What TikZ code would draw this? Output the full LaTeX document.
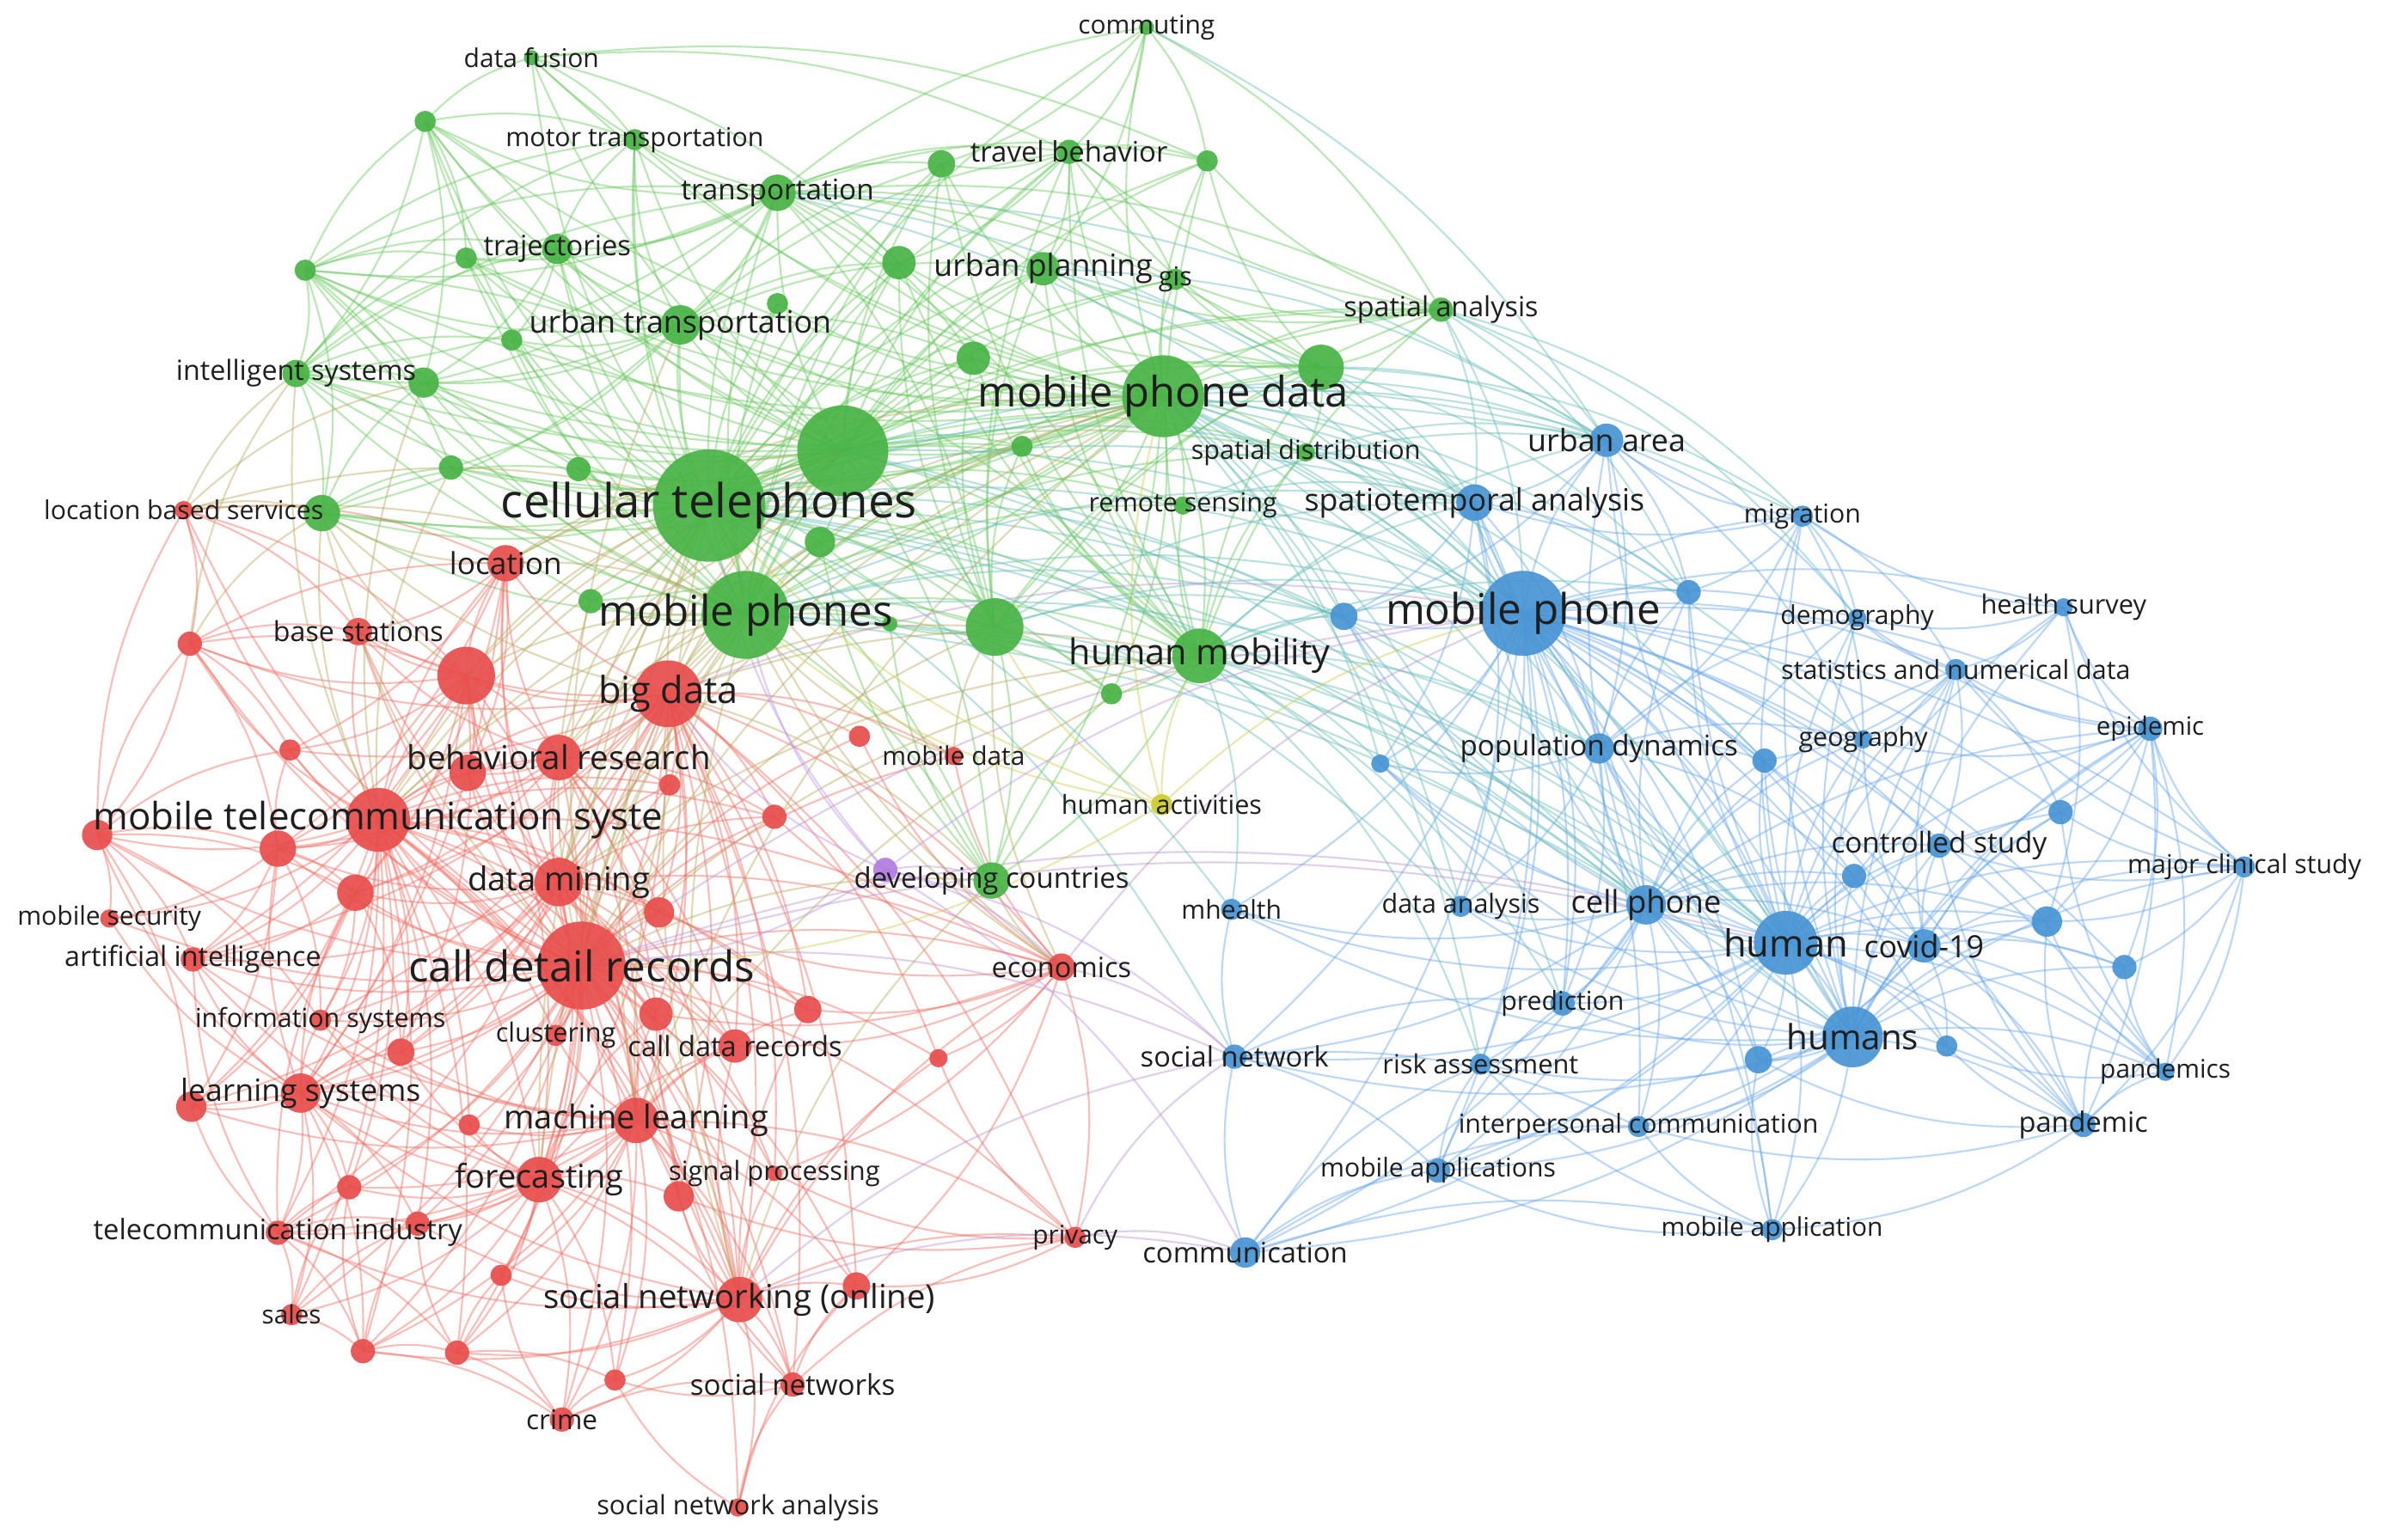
\documentclass[tikz,border=0pt]{standalone}
\usepackage{fontspec}
\setmainfont{Open Sans}
\definecolor{gN}{RGB}{72,180,70}
\definecolor{rN}{RGB}{232,78,76}
\definecolor{bN}{RGB}{72,148,212}
\definecolor{yN}{RGB}{205,205,45}
\definecolor{pN}{RGB}{175,125,225}
\definecolor{gE}{RGB}{105,200,95}
\definecolor{rE}{RGB}{240,110,100}
\definecolor{bE}{RGB}{105,168,235}
\definecolor{rgE}{RGB}{185,170,100}
\definecolor{gbE}{RGB}{105,190,185}
\definecolor{rbE}{RGB}{185,150,205}
\definecolor{yE}{RGB}{205,205,80}
\definecolor{pE}{RGB}{190,150,230}
\definecolor{txt}{RGB}{30,30,30}
\pgfdeclarelayer{background}
\pgfdeclarelayer{fg}
\pgfsetlayers{background,main,fg}
\tikzset{
  nd/.style={circle,inner sep=0pt,draw=none,fill opacity=0.92},
  ng/.style={nd,fill=gN}, nr/.style={nd,fill=rN}, nb/.style={nd,fill=bN},
  ny/.style={nd,fill=yN}, np/.style={nd,fill=pN},
  lbl/.style={inner sep=0pt,text=txt},
  ed/.style={line width=1.2pt,draw opacity=0.45},
  eG/.style={ed,draw=gE}, eR/.style={ed,draw=rE}, eB/.style={ed,draw=bE},
  eRG/.style={ed,draw=rgE}, eGB/.style={ed,draw=gbE}, eRB/.style={ed,draw=rbE},
  eY/.style={ed,draw=yE}, eP/.style={ed,draw=pE}
}
\newlength\lblw
\newcommand\fitl[2]{\settowidth\lblw{\fontsize{10pt}{12pt}\selectfont #2}%
  \pgfmathsetmacro\lblsz{10*#1/\lblw}%
  \fontsize{\lblsz pt}{\lblsz pt}\selectfont #2}
\newcommand\kw[7]{\node[#5,minimum size=#4*2pt] (#1) at (#2,#3) {};%
  \begin{pgfonlayer}{fg}\node[lbl] (#1l) at (#2,#3) {\fitl{#6}{#7}};\end{pgfonlayer}}
\newcommand\kd[5]{\node[#5,minimum size=#4*2pt] (#1) at (#2,#3) {};}
\newcommand\edges[3]{\foreach \t in {#3}{\draw[#1] (#2.center) to[bend left=15] (\t.center);}}
\begin{document}
\begin{tikzpicture}[x=1pt,y=-1pt]
\useasboundingbox (0,0) rectangle (1568,1014);
% ---------- green
\kw{gCom}{755}{18}{5}{ng}{90}{commuting}
\kw{gFus}{350}{38}{5}{ng}{89}{data fusion}
\kd{gU1}{280}{80}{7}{ng}
\kw{gMot}{418}{92}{7}{ng}{170}{motor transportation}
\kw{gTB}{704}{100}{8}{ng}{130}{travel behavior}
\kd{gU2}{620}{108}{9}{ng}
\kd{gU3}{795}{106}{7}{ng}
\kw{gTra}{512}{127}{12}{ng}{127}{transportation}
\kw{gTrj}{367}{164}{10}{ng}{97}{trajectories}
\kd{gU4}{307}{170}{7}{ng}
\kd{gU5}{201}{178}{7}{ng}
\kd{gU6}{512}{200}{7}{ng}
\kw{gUP}{687}{177}{11}{ng}{144}{urban planning}
\kd{gU7}{592}{173}{11}{ng}
\kw{gGis}{774}{184}{7}{ng}{22}{gis}
\kw{gSA}{949}{204}{8}{ng}{128}{spatial analysis}
\kw{gUT}{448}{214}{13}{ng}{199}{urban transportation}
\kd{gU8}{337}{224}{7}{ng}
\kw{gIS}{195}{246}{9}{ng}{158}{intelligent systems}
\kd{gU9}{279}{252}{10}{ng}
\kw{gMPD}{766}{261}{27}{ng}{244}{mobile phone data}
\kd{gU10}{641}{236}{11}{ng}
\kd{gU11}{870}{242}{15}{ng}
\kw{gCT}{467}{333}{37}{ng}{274}{cellular telephones}
\kd{gU12}{555}{297}{30}{ng}
\kd{gU13}{673}{294}{7}{ng}
\kw{gSD}{860}{298}{6}{ng}{151}{spatial distribution}
\kw{gRS}{779}{333}{6}{ng}{124}{remote sensing}
\kd{gU14}{297}{308}{8}{ng}
\kd{gU15}{381}{309}{8}{ng}
\kd{gLBS}{212}{338}{12}{ng}
\kd{gU16}{540}{357}{10}{ng}
\kw{gMP}{491}{405}{29}{ng}{194}{mobile phones}
\kd{gU17}{389}{396}{8}{ng}
\kd{gU18}{586}{411}{5}{ng}
\kd{gU19}{655}{413}{19}{ng}
\kw{gHM}{790}{432}{18}{ng}{172}{human mobility}
\kd{gU20}{732}{457}{7}{ng}
\kw{gDC}{653}{580}{12}{ng}{181}{developing countries}
% ---------- blue
\kw{bUA}{1058}{290}{11}{nb}{104}{urban area}
\kw{bSTA}{971}{331}{12}{nb}{224}{spatiotemporal analysis}
\kw{bMig}{1187}{340}{7}{nb}{77}{migration}
\kd{bU1}{1112}{390}{8}{nb}
\kw{bMP}{1003}{404}{28}{nb}{181}{mobile phone}
\kd{bU2}{885}{406}{9}{nb}
\kw{bDem}{1223}{407}{6}{nb}{101}{demography}
\kw{bHS}{1359}{400}{6}{nb}{109}{health survey}
\kw{bStat}{1288}{441}{7}{nb}{230}{statistics and numerical data}
\kd{bU3}{909}{503}{6}{nb}
\kw{bPD}{1053}{493}{10}{nb}{183}{population dynamics}
\kw{bGeo}{1227}{487}{6}{nb}{85}{geography}
\kd{bU4}{1162}{501}{8}{nb}
\kw{bEpi}{1416}{480}{8}{nb}{71}{epidemic}
\kd{bU5}{1357}{535}{8}{nb}
\kw{bCS}{1277}{557}{8}{nb}{142}{controlled study}
\kd{bU6}{1221}{577}{8}{nb}
\kw{bMCS}{1478}{571}{7}{nb}{154}{major clinical study}
\kw{bCP}{1084}{596}{13}{nb}{99}{cell phone}
\kw{bHu}{1176}{621}{21}{nb}{82}{human}
\kw{bCov}{1267}{623}{11}{nb}{79}{covid-19}
\kd{bU7}{1348}{607}{10}{nb}
\kd{bU8}{1399}{637}{8}{nb}
\kw{bHus}{1220}{683}{20}{nb}{87}{humans}
\kd{bU9}{1282}{689}{7}{nb}
\kd{bU10}{1158}{698}{9}{nb}
\kw{bPs}{1426}{706}{6}{nb}{86}{pandemics}
\kw{bP}{1372}{741}{8}{nb}{85}{pandemic}
\kw{bIC}{1079}{742}{7}{nb}{237}{interpersonal communication}
\kw{bMA}{1167}{810}{7}{nb}{146}{mobile application}
\kw{bMH}{811}{599}{7}{nb}{66}{mhealth}
\kw{bDA}{962}{597}{7}{nb}{104}{data analysis}
\kw{bPre}{1029}{661}{8}{nb}{81}{prediction}
\kw{bSN}{813}{696}{8}{nb}{124}{social network}
\kw{bRA}{975}{701}{7}{nb}{129}{risk assessment}
\kw{bMAs}{947}{771}{8}{nb}{155}{mobile applications}
\kw{bCom}{820}{825}{10}{nb}{135}{communication}
% ---------- yellow / purple
\kw{yHA}{765}{530}{7}{ny}{132}{human activities}
\kd{pU}{583}{573}{8}{np}
% ---------- red
\kw{rLBS}{121}{336}{6}{nr}{184}{location based services}
\kw{rLoc}{333}{371}{12}{nr}{74}{location}
\kd{rU1}{125}{424}{8}{nr}
\kw{rBS}{236}{416}{9}{nr}{112}{base stations}
\kd{rU2}{307}{445}{19}{nr}
\kw{rBD}{440}{457}{22}{nr}{92}{big data}
\kd{rU3}{191}{494}{7}{nr}
\kw{rBR}{368}{499}{15}{nr}{200}{behavioral research}
\kd{rU4}{308}{509}{12}{nr}
\kd{rU5}{441}{517}{7}{nr}
\kd{rU6}{510}{538}{8}{nr}
\kd{rU6b}{566}{485}{7}{nr}
\kw{rMD}{628}{498}{6}{nr}{94}{mobile data}
\kw{rMTS}{249}{540}{21}{nr}{375}{mobile telecommunication syste}
\kd{rU7}{64}{550}{10}{nr}
\kd{rU8}{183}{559}{12}{nr}
\kd{rU9}{234}{588}{12}{nr}
\kw{rDM}{368}{581}{16}{nr}{120}{data mining}
\kd{rU10}{434}{601}{10}{nr}
\kw{rMS}{72}{605}{6}{nr}{121}{mobile security}
\kw{rAI}{127}{632}{8}{nr}{169}{artificial intelligence}
\kw{rCDR}{383}{636}{29}{nr}{228}{call detail records}
\kd{rU11}{432}{668}{11}{nr}
\kw{rIS}{211}{672}{7}{nr}{165}{information systems}
\kd{rU12}{264}{693}{9}{nr}
\kw{rClu}{366}{682}{7}{nr}{79}{clustering}
\kw{rCDaR}{484}{689}{11}{nr}{141}{call data records}
\kw{rLS}{198}{720}{13}{nr}{158}{learning systems}
\kd{rU13}{126}{729}{10}{nr}
\kd{rU14}{309}{741}{7}{nr}
\kw{rML}{419}{738}{15}{nr}{174}{machine learning}
\kd{rU15}{230}{782}{8}{nr}
\kw{rFor}{355}{777}{15}{nr}{111}{forecasting}
\kd{rU16}{447}{788}{10}{nr}
\kw{rSP}{510}{773}{5}{nr}{139}{signal processing}
\kw{rTI}{183}{812}{8}{nr}{243}{telecommunication industry}
\kd{rU17}{275}{806}{8}{nr}
\kd{rU18}{330}{840}{7}{nr}
\kw{rSNO}{487}{856}{15}{nr}{258}{social networking (online)}
\kd{rU19}{564}{847}{9}{nr}
\kw{rSal}{192}{866}{7}{nr}{39}{sales}
\kd{rU20}{239}{890}{8}{nr}
\kd{rU21}{301}{891}{8}{nr}
\kd{rU22}{405}{909}{7}{nr}
\kw{rSNs}{522}{912}{8}{nr}{135}{social networks}
\kw{rCri}{370}{935}{8}{nr}{47}{crime}
\kw{rSNA}{486}{993}{6}{nr}{186}{social network analysis}
\kw{rEco}{699}{637}{9}{nr}{92}{economics}
\kd{rU23}{532}{665}{9}{nr}
\kd{rU24}{618}{697}{6}{nr}
\kw{rPri}{708}{815}{7}{nr}{56}{privacy}
% ---------- edges
\begin{pgfonlayer}{background}
\fill[white] (0,0) rectangle (1568,1014);
% green
\edges{eG}{gCT}{gCom,gFus,gU1,gMot,gTB,gU2,gU3,gTra,gTrj,gU4,gU5,gU6,gUP,gU7,gGis,gSA,gUT,gU8,gIS,gU9,gMPD,gU10,gU11,gU12,gU13,gSD,gRS,gU14,gU15,gLBS,gU16,gMP,gU17,gU18,gU19,gHM,gU20,gDC}
\edges{eG}{gMPD}{gCom,gFus,gU1,gMot,gTB,gU2,gU3,gTra,gTrj,gU4,gU5,gU6,gUP,gU7,gGis,gSA,gUT,gU8,gIS,gU9,gU10,gU11,gU12,gU13,gSD,gRS,gU14,gU15,gLBS,gU16,gMP,gU17,gU19,gHM,gU20,gDC}
\edges{eG}{gMP}{gU1,gMot,gTB,gU2,gTra,gTrj,gU4,gU5,gU6,gUP,gU7,gSA,gUT,gU8,gIS,gU9,gU10,gU11,gU12,gU13,gSD,gRS,gU14,gU15,gLBS,gU16,gU17,gU18,gU19,gHM,gU20,gDC}
\edges{eG}{gU12}{gFus,gU1,gMot,gTB,gU2,gU3,gTra,gTrj,gU4,gU5,gUP,gU7,gGis,gSA,gUT,gIS,gU9,gU10,gU11,gU13,gSD,gRS,gU14,gU15,gLBS,gU16,gU19,gHM,gDC}
\edges{eG}{gTra}{gFus,gU1,gMot,gTB,gU2,gU3,gTrj,gU4,gU5,gUP,gU7,gUT,gIS,gU9,gHM,gU19,gSA,gCom,gGis,gU10,gU11}
\edges{eG}{gUT}{gU1,gMot,gTrj,gU4,gU5,gIS,gU9,gU8,gU14,gLBS,gUP,gU7,gTB,gU2,gHM,gU19,gU10}
\edges{eG}{gU5}{gU1,gTrj,gMot,gU9,gIS,gU4,gU14,gLBS,gTra,gU12}
\edges{eG}{gU1}{gFus,gMot,gTrj,gU4,gU9,gIS}
\edges{eG}{gIS}{gU9,gTrj,gMot,gLBS,gU14,gU15,gU4,gU8,gTra}
\edges{eG}{gHM}{gU11,gSA,gUP,gU7,gTB,gU19,gU20,gDC,gSD,gRS,gU13,gU10,gU2,gU3}
\edges{eG}{gU19}{gUP,gU7,gTB,gU2,gU10,gU11,gSA,gDC,gU20,gU16,gU18,gU13}
\edges{eG}{gCom}{gTB,gU3,gSA,gUP,gU2}
\edges{eG}{gFus}{gMot,gTB,gU3,gU7}
\edges{eG}{gSA}{gU11,gUP,gGis,gU3,gTB}
\edges{eG}{gU11}{gUP,gU3,gTB,gU7,gU10,gGis,gSD}
\edges{eG}{gLBS}{gU9,gU14,gU15,gU17}
\edges{eG}{gTB}{gU2,gU3,gUP,gU7,gGis}
\edges{eG}{gTrj}{gMot,gU4,gU8,gU9}
\edges{eG}{gDC}{gU16,gU18,gU20}
% red
\edges{eR}{rCDR}{rLBS,rLoc,rU1,rBS,rU2,rBD,rU3,rBR,rU4,rU5,rU6,rU6b,rMD,rMTS,rU7,rU8,rU9,rDM,rU10,rMS,rAI,rU11,rIS,rU12,rClu,rCDaR,rLS,rU13,rU14,rML,rU15,rFor,rU16,rSP,rTI,rU17,rU18,rSNO,rU19,rSal,rU20,rU21,rU22,rSNs,rCri,rSNA,rEco,rU23,rU24,rPri}
\edges{eR}{rMTS}{rLBS,rLoc,rU1,rBS,rU2,rBD,rU3,rBR,rU4,rU5,rU6,rU7,rU8,rU9,rDM,rU10,rMS,rAI,rU11,rIS,rU12,rClu,rCDaR,rLS,rU13,rU14,rML,rU15,rFor,rU16,rTI,rU17,rSNO,rSal,rU20,rU21,rEco,rU23}
\edges{eR}{rBD}{rLoc,rU1,rBS,rU2,rU3,rBR,rU4,rU5,rU6,rU6b,rMD,rU8,rU9,rDM,rU10,rAI,rU11,rIS,rU12,rClu,rCDaR,rLS,rML,rFor,rU16,rSP,rSNO,rU19,rSNs,rEco,rU23,rU24,rPri}
\edges{eR}{rDM}{rLoc,rBS,rU2,rBR,rU4,rU5,rU6,rU8,rU9,rU10,rAI,rU11,rIS,rU12,rClu,rCDaR,rLS,rU13,rML,rFor,rU16,rSP,rTI,rSNO,rEco,rU23}
\edges{eR}{rU2}{rLoc,rU1,rBS,rBR,rU4,rU3,rU8,rU9,rLS,rML,rFor,rU12,rAI}
\edges{eR}{rBR}{rLoc,rBS,rU4,rU5,rU6,rU9,rU8,rU10,rU11,rML,rFor,rSNO,rCDaR}
\edges{eR}{rML}{rU11,rCDaR,rU12,rU13,rLS,rU14,rFor,rU15,rU16,rSP,rTI,rU17,rU18,rSNO,rU19,rU20,rU21,rU22,rSNs,rCri,rPri,rAI,rIS,rClu,rU23}
\edges{eR}{rFor}{rU12,rLS,rU14,rU15,rU16,rTI,rU17,rU18,rSNO,rSal,rU20,rU21,rU22,rCri,rSNs,rAI,rIS,rU11,rCDaR}
\edges{eR}{rSNO}{rSNs,rSNA,rCri,rU22,rU19,rPri,rU16,rSP,rU18,rU21,rU20,rLS,rCDaR,rU11,rU23,rEco,rU24,rU17,rTI}
\edges{eR}{rLS}{rU13,rAI,rIS,rU8,rU9,rTI,rU12,rMS,rU7,rU15,rSal,rU17,rU20,rU14}
\edges{eR}{rU7}{rU8,rU9,rU13,rAI,rMS,rLBS,rU1,rU3,rIS}
\edges{eR}{rLBS}{rU1,rLoc,rU2,rBS}
\edges{eR}{rU1}{rBS,rU2,rU7,rLoc,rU3,rU8}
\edges{eR}{rTI}{rSal,rU20,rU17,rU15,rU9,rU13,rAI,rU21}
\edges{eR}{rSal}{rU15,rU20,rU17}
\edges{eR}{rU20}{rU15,rU17,rCri,rU21}
\edges{eR}{rU21}{rU17,rCri,rU18,rU22}
\edges{eR}{rCri}{rU18,rU22,rSNs}
\edges{eR}{rSNA}{rSNs,rU22,rU19}
\edges{eR}{rSNs}{rU19,rPri,rU16,rU22}
\edges{eR}{rEco}{rU10,rU11,rU23,rSP,rU6,rMD,rCDaR,rU24,rU6b,rPri,rU19}
\edges{eR}{rPri}{rU16,rU19,rU24,rSP}
\edges{eR}{rLoc}{rBS,rU4,rU3,rU8,rU9,rLS}
\edges{eR}{rU8}{rU9,rU3,rAI,rMS,rIS,rU13}
\edges{eR}{rU9}{rAI,rIS,rU12,rU13}
% blue
\edges{eB}{bMP}{bUA,bSTA,bMig,bU1,bU2,bDem,bHS,bStat,bU3,bPD,bGeo,bU4,bEpi,bU5,bCS,bU6,bMCS,bCP,bHu,bCov,bU7,bU8,bHus,bU9,bU10,bPs,bP,bIC,bMA,bMH,bDA,bPre,bSN,bRA,bMAs,bCom}
\edges{eB}{bHu}{bUA,bSTA,bMig,bU1,bU2,bDem,bHS,bStat,bU3,bPD,bGeo,bU4,bEpi,bU5,bCS,bU6,bMCS,bCP,bCov,bU7,bU8,bHus,bU9,bU10,bPs,bP,bIC,bMA,bMH,bDA,bPre,bSN,bRA,bMAs,bCom}
\edges{eB}{bHus}{bMig,bU1,bDem,bHS,bStat,bU3,bPD,bGeo,bU4,bEpi,bU5,bCS,bU6,bMCS,bCP,bCov,bU7,bU8,bU9,bU10,bPs,bP,bIC,bMA,bMH,bDA,bPre,bSN,bRA,bMAs,bCom}
\edges{eB}{bCP}{bUA,bSTA,bU1,bU2,bDem,bStat,bU3,bPD,bGeo,bU4,bEpi,bCS,bU6,bCov,bU7,bU10,bIC,bMA,bMH,bDA,bPre,bSN,bRA,bMAs,bCom,bP}
\edges{eB}{bCov}{bU7,bU8,bCS,bPs,bP,bEpi,bMCS,bU5,bU6,bStat,bGeo,bU9,bU10,bIC}
\edges{eB}{bMCS}{bCS,bU5,bU7,bU8,bP,bPs,bEpi,bStat,bHS}
\edges{eB}{bEpi}{bHS,bStat,bU5,bCS,bU7,bU8,bP,bPs,bGeo,bDem}
\edges{eB}{bHS}{bStat,bDem,bMig,bU7}
\edges{eB}{bMig}{bUA,bSTA,bDem,bGeo,bStat,bPD,bU1}
\edges{eB}{bP}{bU7,bU8,bCS,bU9,bPs,bIC,bMA,bU10}
\edges{eB}{bPs}{bU7,bU8,bU5,bU9}
\edges{eB}{bCom}{bSN,bMAs,bMA,bIC,bRA}
\edges{eB}{bSN}{bMH,bMAs,bIC,bPre}
\edges{eB}{bMA}{bMAs,bIC,bRA,bU10}
\edges{eB}{bMAs}{bIC,bRA,bPre}
\edges{eB}{bUA}{bSTA,bU1,bPD,bU2,bGeo,bDem}
\edges{eB}{bSTA}{bU1,bU2,bPD,bU3,bDA,bPre}
\edges{eB}{bPD}{bU1,bU3,bU4,bGeo,bDem,bDA,bPre,bU6}
\edges{eB}{bStat}{bDem,bGeo,bU4,bU6,bCS,bU5}
% green-blue
\edges{eGB}{gMPD}{bMP,bUA,bSTA,bPD,bCP,bHu,bU2,bU1,bMig,bDA,bPre,bRA,bHus,bU3,bGeo,bU4}
\edges{eGB}{gCT}{bMP,bHu,bCP,bSTA,bPD,bHus,bUA,bU2,bSN,bMH,bDA}
\edges{eGB}{gMP}{bMP,bHu,bCP,bPD,bSTA,bU2,bHus}
\edges{eGB}{gU12}{bMP,bSTA,bUA,bHu,bCP}
\edges{eGB}{gHM}{bMP,bSTA,bUA,bCP,bPD,bHu,bU2,bU1,bU3,bDA,bPre,bRA,bMH}
\edges{eGB}{gU11}{bUA,bSTA,bMP,bMig,bU1}
\edges{eGB}{gSA}{bUA,bSTA,bMP,bMig,bU1,bDem}
\edges{eGB}{gU19}{bMP,bU2,bSTA,bCP}
\edges{eGB}{gTra}{bUA,bMP,bSTA}
\edges{eGB}{gCom}{bUA}
\edges{eGB}{gSD}{bMP,bSTA,bUA}
\edges{eGB}{gRS}{bMP,bSTA,bUA}
\edges{eGB}{gUP}{bUA,bMP,bSTA}
% red-green
\edges{eRG}{rCDR}{gCT,gMP,gU12,gMPD,gHM,gU19,gDC,gU16,gLBS,gUT,gU17}
\edges{eRG}{rBD}{gCT,gMP,gU12,gMPD,gHM,gU19,gU16,gLBS,gDC}
\edges{eRG}{rMTS}{gCT,gMP,gU12,gMPD,gLBS,gIS,gU9,gU14}
\edges{eRG}{rDM}{gCT,gMP,gMPD,gU12,gHM}
\edges{eRG}{rLoc}{gCT,gMP,gLBS,gU12,gMPD}
\edges{eRG}{rU2}{gCT,gMP,gU12,gLBS}
\edges{eRG}{rBR}{gCT,gMP,gMPD,gU12}
\edges{eRG}{rLBS}{gLBS,gCT,gIS,gU9,gMP}
\edges{eRG}{rML}{gCT,gMP,gMPD,gHM}
\edges{eRG}{rEco}{gDC,gCT,gMP,gU19}
\edges{eRG}{rMD}{gMP,gCT,gU19}
\edges{eRG}{rSNO}{gCT,gMP,gDC}
\edges{eRG}{rFor}{gCT,gMP}
\edges{eRG}{rU1}{gLBS,gIS}
% red-blue
\edges{eRB}{rCDR}{bMP,bHu,bCP,bSN}
\edges{eRB}{rSNO}{bCom,bSN}
\edges{eRB}{rPri}{bCom,bSN}
\edges{eRB}{rEco}{bSN,bMP}
\edges{eRB}{rBD}{bMP}
% yellow, purple
\edges{eY}{yHA}{gMPD,gHM,gCT,bMP,rCDR,gMP,gU19}
\edges{eP}{pU}{rCDR,gCT,gMP,rBD,bMP,gDC,rEco,bSN,bCom}
\end{pgfonlayer}
\end{tikzpicture}
\end{document}
